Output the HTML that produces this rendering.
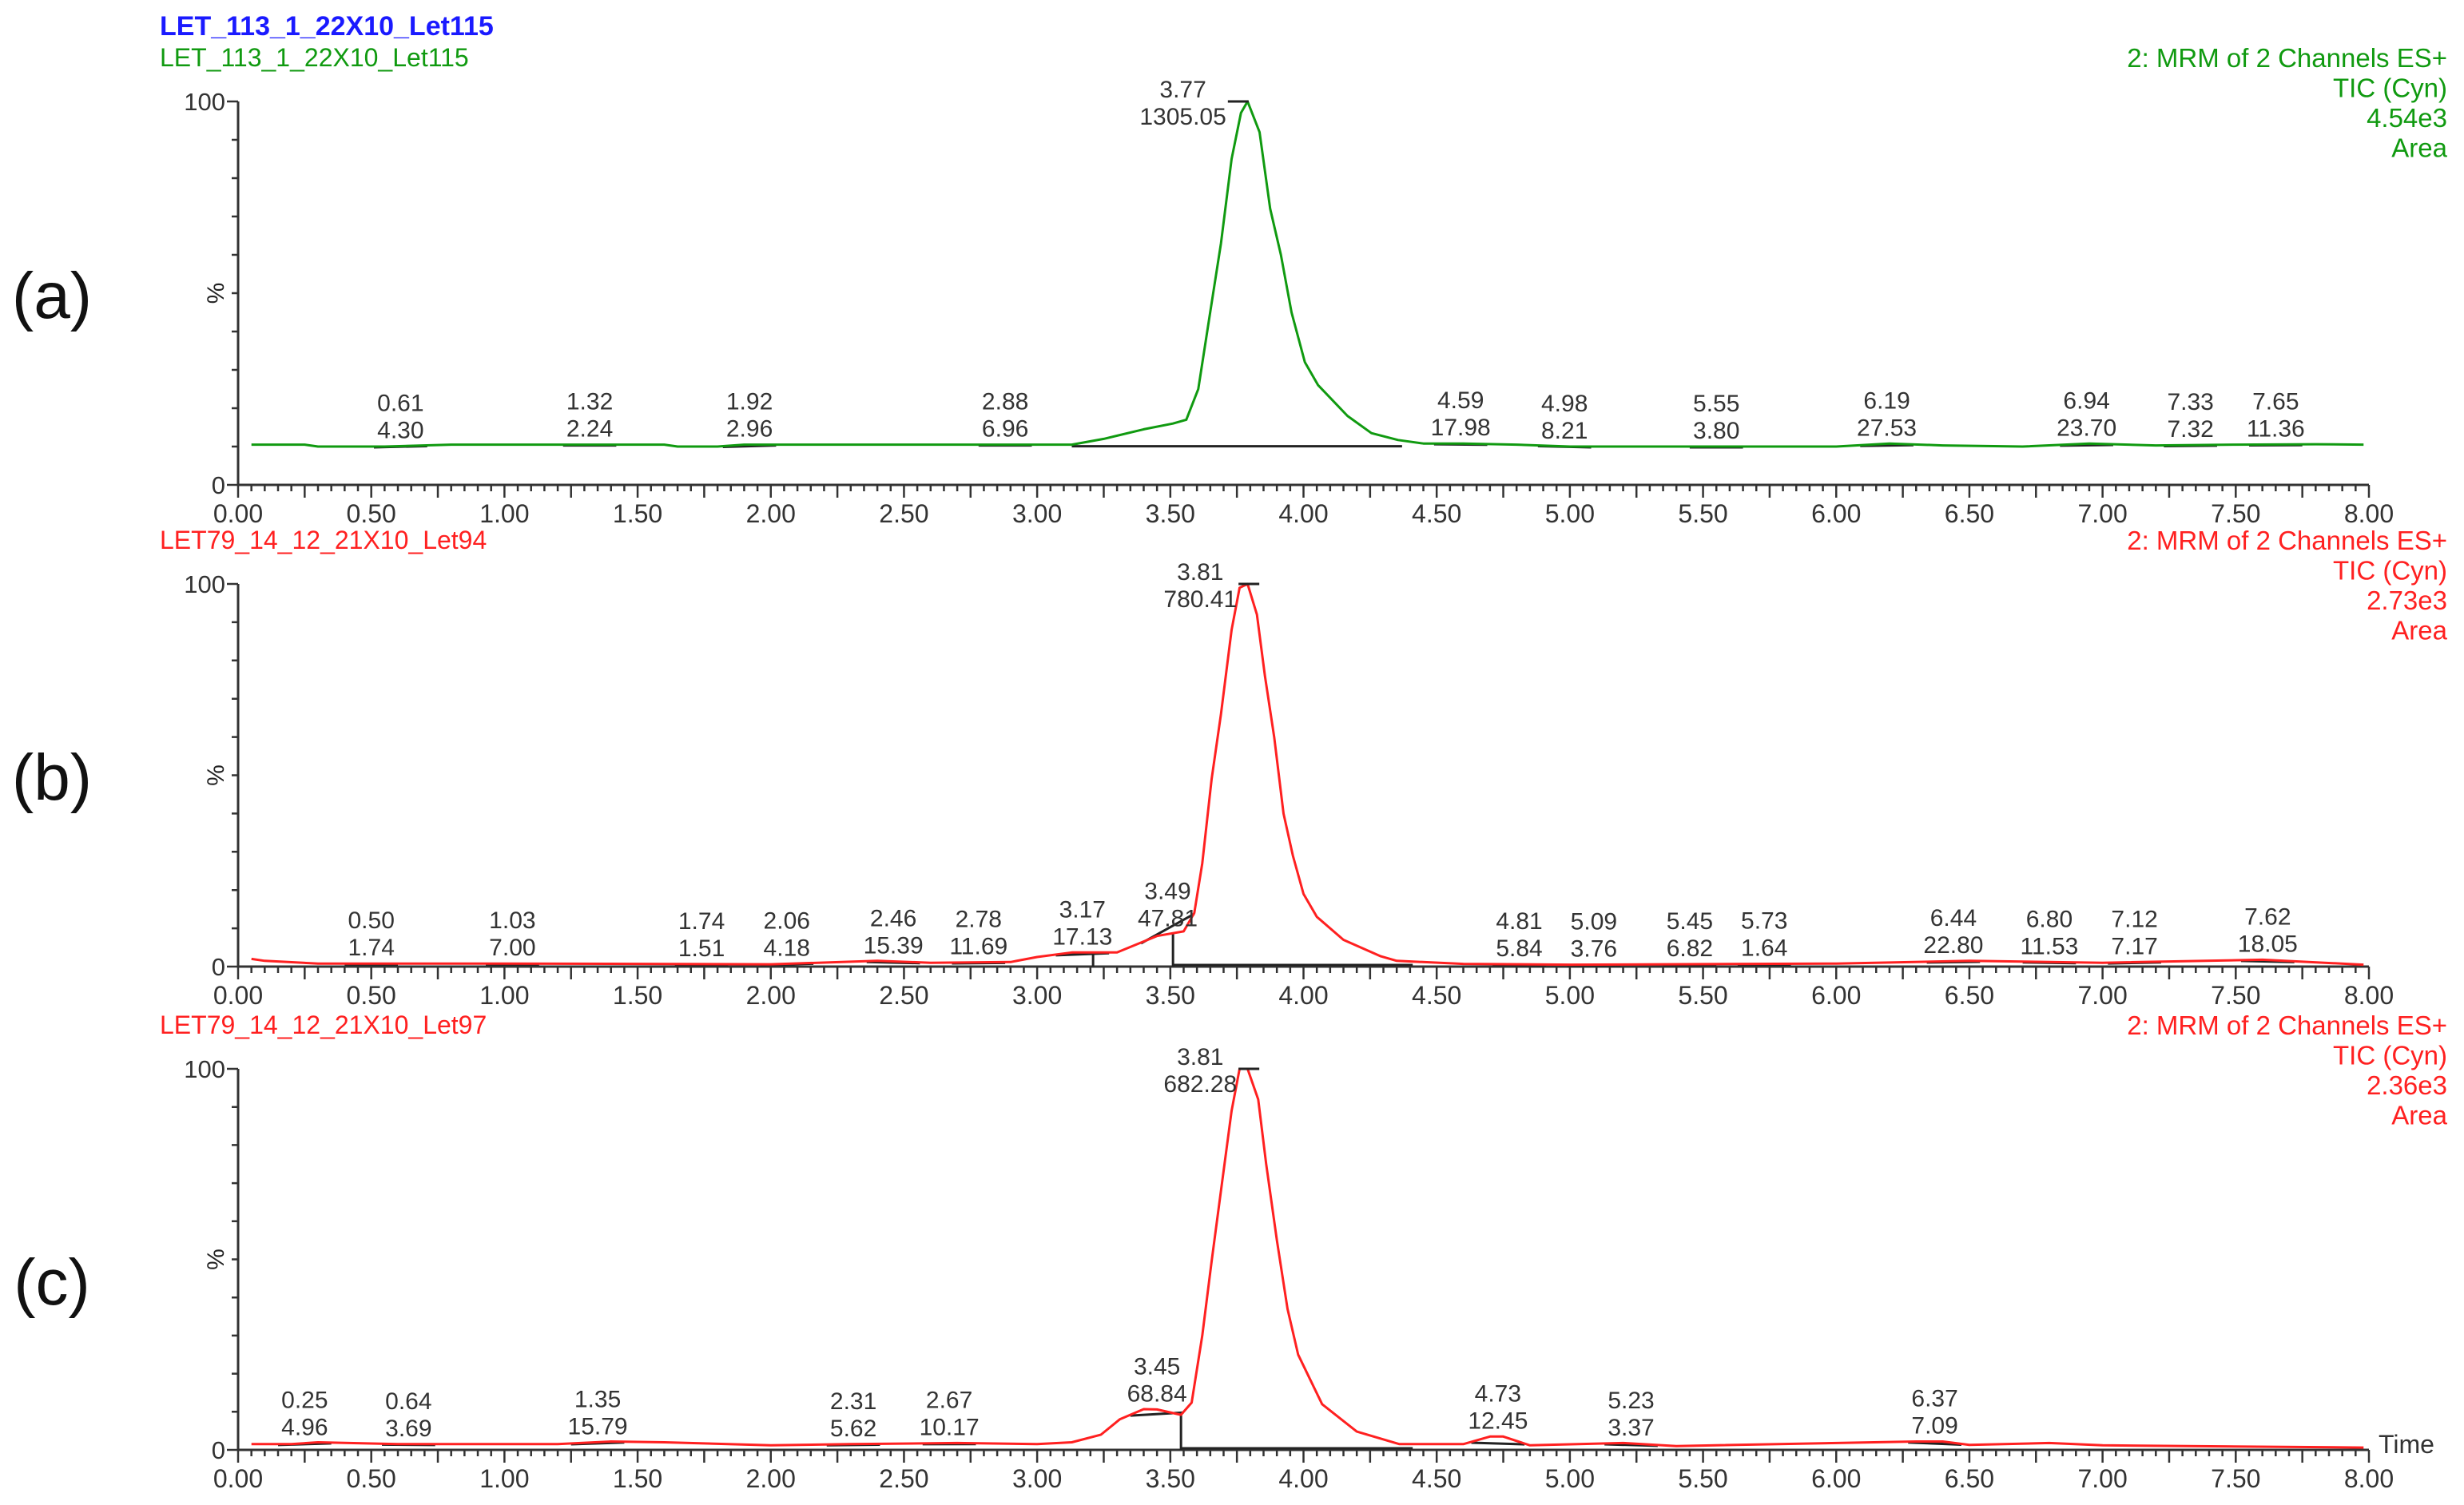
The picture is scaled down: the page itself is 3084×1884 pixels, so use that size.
<!DOCTYPE html>
<html><head><meta charset="utf-8"><style>
html,body{margin:0;padding:0;background:#fff;}
svg{display:block;font-family:"Liberation Sans",Arial,sans-serif;}
</style></head><body>
<svg id="chart" width="3084" height="1884" viewBox="0 0 3084 1884" xmlns="http://www.w3.org/2000/svg"></svg>
<script>
// ---- data ----
const xTicks = [0,0.5,1,1.5,2,2.5,3,3.5,4,4.5,5,5.5,6,6.5,7,7.5,8];
const curveA = [[0.05,10.5],[0.25,10.5],[0.3,10],[0.55,10],[0.8,10.5],[1.6,10.5],[1.65,10],[1.8,10],[1.9,10.5],[2.8,10.5],[3.13,10.5],[3.25,12],[3.4,14.5],[3.51,16],[3.56,17],[3.605,25],[3.645,43],[3.69,63],[3.73,85],[3.765,97],[3.79,100],[3.835,92],[3.875,72],[3.915,60],[3.955,45],[4.005,32],[4.055,26],[4.165,18],[4.255,13.5],[4.355,11.7],[4.45,10.8],[4.6,10.8],[4.8,10.5],[5.0,10],[5.6,10],[6.0,10],[6.2,10.8],[6.4,10.3],[6.7,10],[6.95,10.8],[7.2,10.3],[7.5,10.5],[7.8,10.6],[7.98,10.5]];
const curveB = [[0.05,2],[0.1,1.5],[0.3,0.8],[1.0,0.8],[2.0,0.6],[2.4,1.5],[2.6,1],[2.9,1.2],[3.0,2.5],[3.13,3.7],[3.3,3.7],[3.45,8],[3.55,9.2],[3.59,14],[3.62,27],[3.655,49],[3.69,66],[3.73,88],[3.76,99],[3.79,100],[3.825,92],[3.855,76],[3.89,60],[3.925,40],[3.96,29],[4.0,19],[4.05,13],[4.15,7],[4.29,2.7],[4.35,1.5],[4.6,0.7],[5,0.5],[6,0.8],[6.5,1.5],[7,1],[7.6,1.8],[7.98,0.5]];
const curveC = [[0.05,1.5],[0.2,1.5],[0.3,2],[0.6,1.5],[1.2,1.5],[1.4,2.2],[1.6,2],[2.0,1.2],[2.3,1.5],[2.7,1.8],[3.0,1.5],[3.13,2],[3.24,4],[3.31,8],[3.40,10.7],[3.45,10.6],[3.54,9.2],[3.58,12.4],[3.62,30],[3.655,49.5],[3.69,68],[3.73,89],[3.76,100],[3.79,100],[3.83,92],[3.86,75],[3.90,55],[3.94,37],[3.98,25],[4.07,12],[4.2,4.8],[4.36,1.5],[4.6,1.5],[4.7,3.5],[4.75,3.5],[4.85,1.2],[5.2,1.8],[5.4,1],[6.3,2.2],[6.4,2.2],[6.5,1.3],[6.8,1.8],[7.0,1.2],[7.98,0.6]];
const peakTimesA = [0.61,1.32,1.92,2.88,3.77,4.59,4.98,5.55,6.19,6.94,7.33,7.65];
const peakAreasA = ["4.30","2.24","2.96","6.96","1305.05","17.98","8.21","3.80","27.53","23.70","7.32","11.36"];
const peakTimesB = [0.50,1.03,1.74,2.06,2.46,2.78,3.17,3.49,3.81,4.81,5.09,5.45,5.73,6.44,6.80,7.12,7.62];
const peakAreasB = ["1.74","7.00","1.51","4.18","15.39","11.69","17.13","47.81","780.41","5.84","3.76","6.82","1.64","22.80","11.53","7.17","18.05"];
const peakTimesC = [0.25,0.64,1.35,2.31,2.67,3.45,3.81,4.73,5.23,6.37];
const peakAreasC = ["4.96","3.69","15.79","5.62","10.17","68.84","682.28","12.45","3.37","7.09"];
const dropTimesA = [];
const dropTimesB = [3.21,3.51];
const dropTimesC = [3.54];

const svg = document.getElementById('chart');
const NS = 'http://www.w3.org/2000/svg';
function mk(tag, attrs, parent){const e=document.createElementNS(NS,tag);for(const k in attrs)e.setAttribute(k,attrs[k]);(parent||svg).appendChild(e);return e;}
function txt(s, attrs, parent){const e=mk('text',attrs,parent);e.textContent=s;return e;}

const X0=298, X1=2965;
const xs = t => X0 + (X1-X0)*t/8;
function interp(c,t){if(t<=c[0][0])return c[0][1];for(let i=1;i<c.length;i++){if(c[i][0]>=t){const a=c[i-1],b=c[i];return a[1]+(b[1]-a[1])*(t-a[0])/(b[0]-a[0]);}}return c[c.length-1][1];}

const panels = [
 {key:'a', top:127, bot:607, color:'#109a10', curve:curveA, times:peakTimesA, areas:peakAreasA, drops:dropTimesA, title:'LET_113_1_22X10_Let115', info:['2: MRM of 2 Channels ES+','TIC (Cyn)','4.54e3','Area'], tag:'(a)', tagY:370, leftW:0.64},
 {key:'b', top:731, bot:1210, color:'#ff2020', curve:curveB, times:peakTimesB, areas:peakAreasB, drops:dropTimesB, title:'LET79_14_12_21X10_Let94', info:['2: MRM of 2 Channels ES+','TIC (Cyn)','2.73e3','Area'], tag:'(b)', tagY:973, leftW:0.3},
 {key:'c', top:1338, bot:1815, color:'#ff2020', curve:curveC, times:peakTimesC, areas:peakAreasC, drops:dropTimesC, title:'LET79_14_12_21X10_Let97', info:['2: MRM of 2 Channels ES+','TIC (Cyn)','2.36e3','Area'], tag:'(c)', tagY:1605, leftW:0.27}
];

txt('LET_113_1_22X10_Let115',{x:200,y:44,'font-size':34,'font-weight':'bold',fill:'#1a1aff',});

panels.forEach(p=>{
  const g = mk('g',{});
  
  
  const ys = v => p.bot - (p.bot-p.top)*v/100;
  const hy = p.top-55;
  const t1 = txt(p.title,{x:200,y:hy+11,'font-size':32,fill:p.color},g);
  
  
  p.info.forEach((s,i)=>{
    const e=txt(s,{x:3063,y:hy+12+i*37.5,'font-size':33,fill:p.color,'text-anchor':'end'},g);
    
    
  });
  const tg = txt(p.tag,{x:65,y:p.tagY+28,'font-size':82,fill:'#111','text-anchor':'middle'},g);
  
  
  const pc = txt('%',{x:0,y:0,'font-size':30,fill:'#222','text-anchor':'middle',transform:`translate(${X0-18},${(p.top+p.bot)/2}) rotate(-90)`},g);
  
  
  const ax = mk('path',{d:`M${X0},${p.top}V${p.bot}H${X1}`,stroke:'#333','stroke-width':3,fill:'none'},g);
  
  
  let d='';
  for(let v=10;v<100;v+=10) d+=`M${X0-8},${ys(v)}h8`;
  d+=`M${X0-14},${ys(100)}h14M${X0-14},${ys(0)}h14`;
  for(let i=0;i<=160;i++){const t=i*0.05;const L=(i%5===0)?16:8;d+=`M${xs(t)},${p.bot}v${L}`;}
  const tk = mk('path',{d:d,stroke:'#333','stroke-width':2.5,fill:'none'},g);
  
  
  txt('100',{x:X0-16,y:ys(100)+11,'font-size':31,fill:'#333','text-anchor':'end'},g);
  txt('0',{x:X0-16,y:ys(0)+11,'font-size':31,fill:'#333','text-anchor':'end'},g);
  xTicks.forEach(t=>{
    const e=txt(t.toFixed(2),{x:xs(t),y:p.bot+47,'font-size':32,fill:'#333','text-anchor':'middle'},g);
    
    
  });
  if(p.key==='c'){const e=txt('Time',{x:X1+12,y:p.bot+4,'font-size':32,fill:'#333'},g);}
  const maxI = p.areas.map(parseFloat).reduce((m,v,i,a)=>v>a[m]?i:m,0);
  p.times.forEach((t,i)=>{
    const a=Math.max(0.05,t-(i===maxI?p.leftW:0.1)), b=Math.min(7.98,t+(i===maxI?0.6:0.1));
    const yb = i===maxI ? (p.key==='a'?ys(interp(p.curve,a))+2:ys(0)-2) : null;
    const bl = mk('line',{x1:xs(a),y1:yb!==null?yb:ys(interp(p.curve,a))+1,x2:xs(b),y2:yb!==null?yb:ys(interp(p.curve,b))+1,stroke:'#222','stroke-width':3},g);
    
    
  });
  p.drops.forEach(t=>{
    const dl = mk('line',{x1:xs(t),y1:ys(interp(p.curve,t)),x2:xs(t),y2:ys(0),stroke:'#222','stroke-width':3},g);
    
    
  });
  const pd = p.curve.map((q,i)=>(i?'L':'M')+xs(q[0]).toFixed(1)+','+ys(q[1]).toFixed(1)).join('');
  const cv = mk('path',{d:pd,stroke:p.color,'stroke-width':3,fill:'none','stroke-linejoin':'round'},g);
  
  
  p.times.forEach((t,i)=>{
    let x=xs(t), yt, ya, anchor='middle';
    if(i===maxI){
      const m=mk('line',{x1:xs(t)-18,y1:ys(100),x2:xs(t)+8,y2:ys(100),stroke:'#222','stroke-width':3},g);
      
      
      const e2=txt(p.areas[i],{x:xs(t)-20,y:ys(100)+29,'font-size':30,fill:'#333','text-anchor':'end'},g);
      
      
      const w=e2.getComputedTextLength();
      const e1=txt(t.toFixed(2),{x:xs(t)-20-w/2,y:ys(100)-5,'font-size':30,fill:'#333','text-anchor':'middle'},g);
      
      
      return;
    }
    const cy=ys(interp(p.curve,t));yt=cy-44;ya=cy-10;
    const e1=txt(t.toFixed(2),{x:x,y:yt,'font-size':30,fill:'#333','text-anchor':anchor},g);
    
    
    const e2=txt(p.areas[i],{x:x,y:ya,'font-size':30,fill:'#333','text-anchor':anchor},g);
    
    
  });
});
</script>
</body></html>
